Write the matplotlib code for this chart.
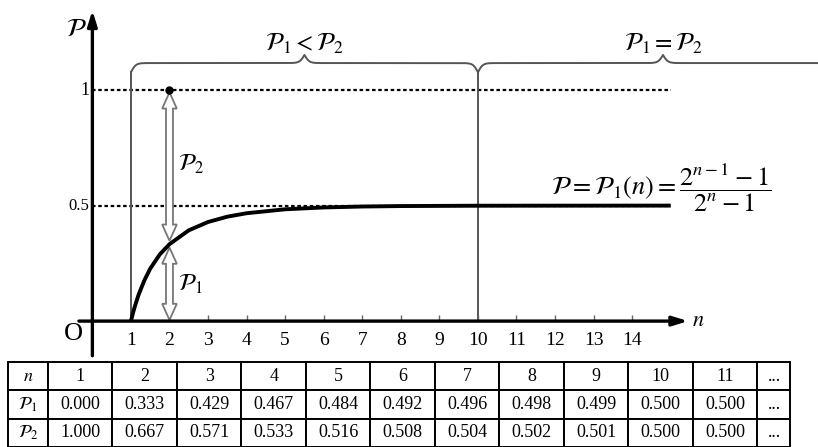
import matplotlib
matplotlib.use("Agg")
import matplotlib.pyplot as plt
import numpy as np
from matplotlib.patches import Polygon

plt.rcParams["font.family"] = ["Liberation Serif", "DejaVu Serif"]
plt.rcParams["mathtext.fontset"] = "stix"

# table values
N_TABLE = [1, 2, 3, 4, 5, 6, 7, 8, 9, 10, 11]
P1_TABLE = ["0.000", "0.333", "0.429", "0.467", "0.484", "0.492",
            "0.496", "0.498", "0.499", "0.500", "0.500"]
P2_TABLE = ["1.000", "0.667", "0.571", "0.533", "0.516", "0.508",
            "0.504", "0.502", "0.501", "0.500", "0.500"]

# curve P1(n)
CURVE_N = [1, 1.05, 1.1, 1.2, 1.35, 1.5, 1.75, 2, 2.5, 3, 3.5, 4, 5, 6, 7, 8, 10, 15]
CURVE_P = [0.0, 0.033, 0.063, 0.115, 0.177, 0.227, 0.289, 0.333, 0.393, 0.429,
           0.452, 0.467, 0.484, 0.492, 0.496, 0.498, 0.4995, 0.5]

X_TICKS = list(range(1, 15))
Y_LEVELS = [0.5, 1.0]
Y_LABELS = ["0.5", "1"]
REGION_BOUNDS = [1, 10, 19.6]
REGION_LABELS = [r"$\mathcal{P}_1 < \mathcal{P}_2$", r"$\mathcal{P}_1 = \mathcal{P}_2$"]
MARK_N = 2
MARK_P = 1.0
MARK_CURVE_P = 0.333
GUIDE_END = 15

BRACE_Y = 1.117
GRAY = "#555555"


def brace(ax, x0, x1, y, h_end, h_tip, beta):
    xs = np.linspace(x0, x1, 601)
    half = xs[:301]
    yh = 1 / (1 + np.exp(-beta * (half - half[0]))) + 1 / (1 + np.exp(-beta * (half - half[-1])))
    yy = np.concatenate([yh, yh[-2::-1]])
    # 0.5 -> ends, 1.0 -> flat, 1.5 -> tip
    out = np.where(yy < 1.0, y - (1.0 - yy) * 2 * h_end, y + (yy - 1.0) * 2 * h_tip)
    ax.plot(xs, out, color=GRAY, lw=1.4, solid_capstyle="round")
    return y - h_end


def hollow_double_arrow(ax, x, y_top, y_bot, sw=0.09, hw=0.19, hl=0.07):
    pts = [(x, y_top), (x + hw, y_top - hl), (x + sw, y_top - hl),
           (x + sw, y_bot + hl), (x + hw, y_bot + hl), (x, y_bot),
           (x - hw, y_bot + hl), (x - sw, y_bot + hl), (x - sw, y_top - hl),
           (x - hw, y_top - hl)]
    ax.add_patch(Polygon(pts, closed=True, facecolor="white", edgecolor="#777777",
                         lw=1.3, zorder=4))


fig = plt.figure(figsize=(8.18, 4.47), dpi=100)
ax = fig.add_axes([0, 0, 1, 1])
ax.set_xlim(-2.396, 18.82)
ax.set_ylim(-0.545, 1.39)
ax.set_axis_off()

# guide lines
for lvl in Y_LEVELS:
    ax.plot([0, GUIDE_END], [lvl, lvl], color="black", lw=1.6,
            linestyle=(0, (1.6, 1.2)), zorder=2)

# region braces and boundaries
end_y = BRACE_Y
for i, lab in enumerate(REGION_LABELS):
    a, b = REGION_BOUNDS[i], REGION_BOUNDS[i + 1]
    end_y = brace(ax, a, b, BRACE_Y, 0.04, 0.035, 16)
    ax.text((a + b) / 2, BRACE_Y + 0.085, lab, ha="center", va="center", fontsize=18)
for xb in REGION_BOUNDS[:2]:
    ax.plot([xb, xb], [0, end_y], color=GRAY, lw=1.4, zorder=2)

# main curve
ax.plot(CURVE_N, CURVE_P, color="black", lw=2.8, zorder=5, solid_capstyle="butt")

# P2 / P1 hollow arrows at n=2
hollow_double_arrow(ax, MARK_N, MARK_P - 0.01, MARK_CURVE_P + 0.015)
hollow_double_arrow(ax, MARK_N, MARK_CURVE_P - 0.015, 0.005)
ax.plot([MARK_N], [MARK_P], "o", color="black", ms=5, zorder=6)
ax.text(MARK_N + 0.22, 0.68, r"$\mathcal{P}_2$", fontsize=17, ha="left", va="center")
ax.text(MARK_N + 0.22, 0.16, r"$\mathcal{P}_1$", fontsize=17, ha="left", va="center")

# axes with arrows
ax.annotate("", xy=(0, 1.345), xytext=(0, -0.15),
            arrowprops=dict(arrowstyle="-|>,head_length=0.9,head_width=0.28",
                            lw=2.4, color="black", shrinkA=0, shrinkB=0), zorder=7)
ax.annotate("", xy=(15.45, 0), xytext=(-0.35, 0),
            arrowprops=dict(arrowstyle="-|>,head_length=0.9,head_width=0.28",
                            lw=2.4, color="black", shrinkA=0, shrinkB=0), zorder=7)
ax.vlines(X_TICKS, 0, 0.025, color="#666666", lw=1)
for n in X_TICKS:
    ax.text(n, -0.085, str(n), ha="center", va="center", fontsize=14)
for lvl, lab in zip(Y_LEVELS, Y_LABELS):
    ax.text(-0.08, lvl, lab, ha="right", va="center", fontsize=12 if lab == "0.5" else 13)
ax.text(-0.5, -0.055, "O", ha="center", va="center", fontsize=19)
ax.text(-0.42, 1.26, r"$\mathcal{P}$", ha="center", va="center", fontsize=19)
ax.text(15.55, 0.0, r"$n$", ha="left", va="center", fontsize=16)

# formula
ax.text(11.9, 0.575,
        r"$\mathcal{P}=\mathcal{P}_1(n)=\dfrac{2^{n-1}-1}{2^n-1}$",
        ha="left", va="center", fontsize=19)

# table
rows = [[r"$n$"] + [str(n) for n in N_TABLE] + ["..."],
        [r"$\mathcal{P}_1$"] + P1_TABLE + ["..."],
        [r"$\mathcal{P}_2$"] + P2_TABLE + ["..."]]
widths = [40] + [64.5] * len(N_TABLE) + [33]
total = sum(widths)
tbl = ax.table(cellText=rows, cellLoc="center", colWidths=[w / total for w in widths],
               bbox=[8 / 818, 0.0, total / 818, 85 / 447])
tbl.auto_set_font_size(False)
tbl.set_fontsize(13)
for cell in tbl.get_celld().values():
    cell.set_linewidth(1.4)
    cell.set_edgecolor("black")

fig.savefig("out.png", dpi=100)
